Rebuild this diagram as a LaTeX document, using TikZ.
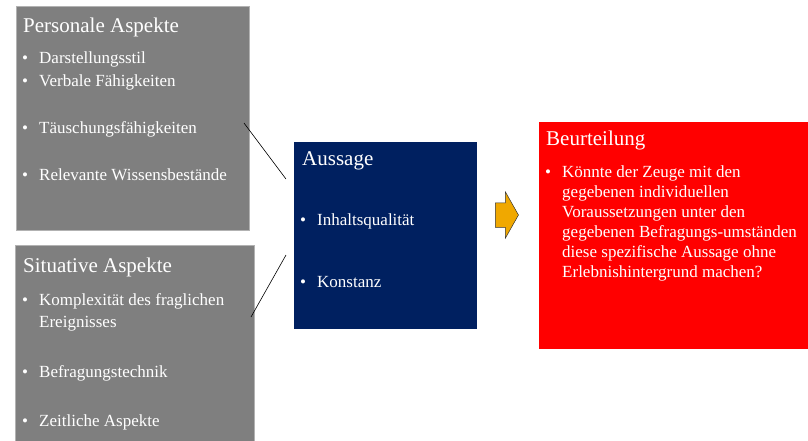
\documentclass[tikz,border=0pt]{standalone}
\usepackage{fontspec}
\setmainfont{Liberation Serif}
\usetikzlibrary{positioning,shapes.arrows}

\definecolor{boxgray}{HTML}{7F7F7F}
\definecolor{navy}{HTML}{002060}
\definecolor{gold}{HTML}{F0A800}
\newcommand{\bul}{\makebox[17pt][l]{\textbullet}}

\begin{document}
\begin{tikzpicture}[
  x=1pt, y=-1pt,
  box/.style={anchor=north west, inner sep=0pt, outer sep=0pt},
  title/.style={anchor=base west, inner sep=0pt, text=white, font=\fontsize{21}{25}\selectfont},
  item/.style={anchor=base west, inner sep=0pt, text=white, align=left, font=\fontsize{17}{22}\selectfont},
  link/.style={draw=black, line width=0.6pt}
]
\useasboundingbox (0,0) rectangle (808,440);

% Boxes
\node[box, fill=boxgray, draw=boxgray!60!white, minimum width=233pt, minimum height=224pt] (pers) at (16,6) {};
\node[box, fill=boxgray, draw=boxgray!60!white, minimum width=239pt, minimum height=196pt] (sit) at (15,245) {};
\node[box, fill=navy, minimum width=183pt, minimum height=187pt] (auss) at (294,142) {};
\node[box, fill=red, minimum width=269pt, minimum height=227pt] (beur) at (539,122) {};

% Personale Aspekte
\node[title] (pers-t) at (23,32) {Personale Aspekte};
\node[item] (pers-1) at (22,63) {\bul Darstellungsstil};
\node[item] (pers-2) at (22,86) {\bul Verbale Fähigkeiten};
\node[item] (pers-3) at (22,133) {\bul Täuschungsfähigkeiten};
\node[item] (pers-4) at (22,180) {\bul Relevante Wissensbestände};

% Situative Aspekte (multi-line nodes sit on their last baseline)
\node[title] (sit-t) at (23,272) {Situative Aspekte};
\node[item] (sit-1) at (22,327) {\bul Komplexität des fraglichen\\\hspace*{17pt}Ereignisses};
\node[item] (sit-2) at (22,377) {\bul Befragungstechnik};
\node[item] (sit-3) at (22,426) {\bul Zeitliche Aspekte};

% Aussage
\node[title] (auss-t) at (302,165) {Aussage};
\node[item] (auss-1) at (300,225) {\bul Inhaltsqualität};
\node[item] (auss-2) at (300,287) {\bul Konstanz};

% Beurteilung
\node[title] (beur-t) at (546,145) {Beurteilung};
\node[item, font=\fontsize{17}{20}\selectfont] (beur-1) at (545,277)
  {\bul Könnte der Zeuge mit den\\\hspace*{17pt}gegebenen individuellen\\\hspace*{17pt}Voraussetzungen unter den\\\hspace*{17pt}gegebenen Befragungs-umständen\\\hspace*{17pt}diese spezifische Aussage ohne\\\hspace*{17pt}Erlebnishintergrund machen?};

% Arrow
\node[shape=single arrow, fill=gold, draw=black!80, line width=0.5pt,
  single arrow head extend=11pt, single arrow tip angle=121,
  minimum height=23pt, inner xsep=0pt, inner ysep=12pt] (arr) at (503.5,215) {};

% Connectors
\coordinate (pers-a) at (244,123);
\coordinate (auss-a) at (286,179);
\coordinate (auss-b) at (286,255);
\coordinate (sit-a) at (251,317);
\draw[link] (pers-a) -- (auss-a);
\draw[link] (auss-b) -- (sit-a);

\end{tikzpicture}
\end{document}
